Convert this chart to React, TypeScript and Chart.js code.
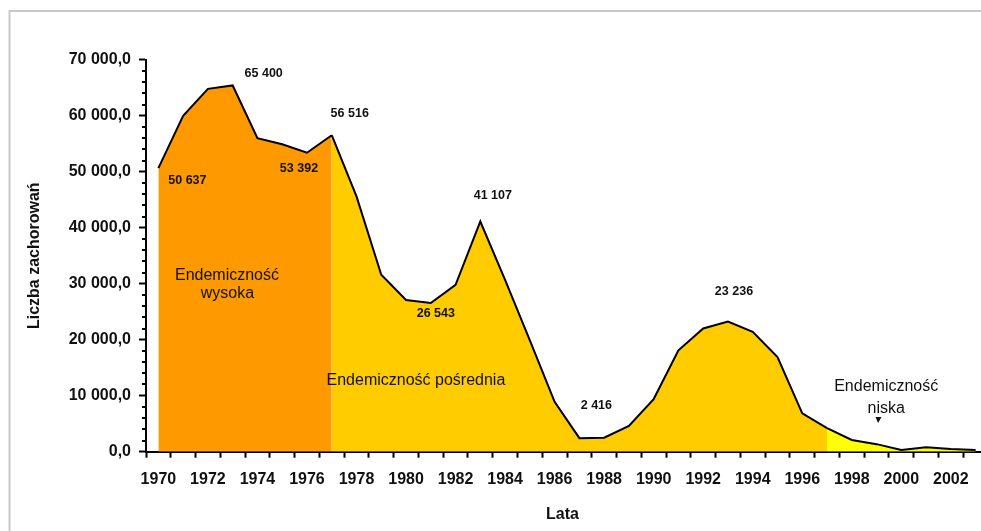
import React, { useEffect, useRef } from "react";
import { Chart, registerables } from "chart.js";

Chart.register(...registerables);

const years: string[] = [
  "1970", "1971", "1972", "1973", "1974", "1975", "1976", "1977", "1978", "1979",
  "1980", "1981", "1982", "1983", "1984", "1985", "1986", "1987", "1988", "1989",
  "1990", "1991", "1992", "1993", "1994", "1995", "1996", "1997", "1998", "1999",
  "2000", "2001", "2002", "2003",
];

const cases: number[] = [
  50637, 60000, 64800, 65400, 56000, 54900, 53392, 56516, 45600, 31600,
  27100, 26543, 29800, 41107, 30700, 19900, 8900, 2416, 2500, 4600,
  9400, 18100, 22000, 23236, 21400, 16900, 6850, 4200, 2100, 1350,
  300, 790, 480, 300,
];

// zone boundaries (years)
const highEndYear = "1977";
const midEndYear = "1997";

const zoneColors: string[] = ["#ff9900", "#ffcc00", "#ffff00"];

const yTicks: number[] = [0, 10000, 20000, 30000, 40000, 50000, 60000, 70000];

const valueLabelYears: string[] = ["1970", "1973", "1976", "1977", "1981", "1983", "1987", "1993"];
const valueLabelTexts: string[] = ["50 637", "65 400", "53 392", "56 516", "26 543", "41 107", "2 416", "23 236"];

const FONT = "'Liberation Sans', Arial, Helvetica, sans-serif";

const fmt = (v: number) =>
  Math.round(v).toString().replace(/\B(?=(\d{3})+(?!\d))/g, " ") + ",0";

export default function App() {
  const ref = useRef<HTMLCanvasElement | null>(null);

  useEffect(() => {
    if (!ref.current) return;
    const hiIdx = years.indexOf(highEndYear);
    const midIdx = years.indexOf(midEndYear);

    const mk = (from: number, to: number, color: string) => ({
      data: cases.map((v, i) => (i >= from && i <= to ? v : null)),
      borderColor: "#000",
      borderWidth: 2,
      backgroundColor: color,
      fill: "origin",
      pointRadius: 0,
      tension: 0,
      spanGaps: false,
    });

    // label offsets (px) relative to their data points
    const labelOffsets: [number, number][] = [
      [29, 12.6], [31, -12.2], [-8, 16], [18, -22], [5, 10], [12.5, -25.7], [17, -33], [6, -30],
    ];

    const decor = {
      id: "decor",
      beforeDraw(chart: any) {
        const ctx = chart.ctx;
        ctx.save();
        ctx.fillStyle = "#ffffff";
        ctx.fillRect(0, 0, chart.width, chart.height);
        ctx.strokeStyle = "#c8c8c8";
        ctx.lineWidth = 2;
        ctx.beginPath();
        ctx.moveTo(9.5, chart.height);
        ctx.lineTo(9.5, 11);
        ctx.lineTo(chart.width, 11);
        ctx.stroke();
        ctx.restore();
      },
      afterDraw(chart: any) {
        const ctx = chart.ctx;
        const xs = chart.scales.x;
        const ys = chart.scales.y;
        const left = chart.chartArea.left;
        ctx.save();
        // minor ticks
        ctx.strokeStyle = "#000";
        ctx.lineWidth = 2;
        for (let v = 2000; v < 70000; v += 2000) {
          if (v % 10000 === 0) continue;
          const y = Math.round(ys.getPixelForValue(v));
          ctx.beginPath();
          ctx.moveTo(left - 4, y);
          ctx.lineTo(left, y);
          ctx.stroke();
        }
        // value labels
        ctx.fillStyle = "#111";
        ctx.font = `bold 12.5px ${FONT}`;
        ctx.textAlign = "center";
        ctx.textBaseline = "middle";
        valueLabelYears.forEach((yr, k) => {
          const i = years.indexOf(yr);
          const px = xs.getPixelForValue(i);
          const py = ys.getPixelForValue(cases[i]);
          const [dx, dy] = labelOffsets[k];
          ctx.fillText(valueLabelTexts[k], px + dx, py + dy);
        });
        // zone labels
        ctx.font = `16px ${FONT}`;
        ctx.textBaseline = "alphabetic";
        const zl: [string, number, number][] = [
          ["Endemiczność", 2.77, 30660],
          ["wysoka", 2.79, 27450],
          ["Endemiczność pośrednia", 10.4, 11910],
          ["Endemiczność", 29.39, 10890],
          ["niska", 29.39, 6860],
        ];
        zl.forEach(([t, i, v]) => {
          ctx.fillText(t, xs.getPixelForValue(i), ys.getPixelForValue(v));
        });
        // small arrow under "niska"
        const ax = xs.getPixelForValue(29.08);
        const ay = ys.getPixelForValue(5660);
        ctx.beginPath();
        ctx.moveTo(ax - 3, ay - 3);
        ctx.lineTo(ax + 3, ay - 3);
        ctx.lineTo(ax - 0.5, ay + 3);
        ctx.closePath();
        ctx.fill();
        // axis titles
        ctx.font = `bold 16px ${FONT}`;
        ctx.textBaseline = "middle";
        ctx.fillText("Lata", (xs.left + 981) / 2 - 1, 515);
        ctx.translate(35, (chart.chartArea.top + chart.chartArea.bottom) / 2);
        ctx.rotate(-Math.PI / 2);
        ctx.fillText("Liczba zachorowań", 0, 0);
        ctx.restore();
      },
    };

    const chart = new Chart(ref.current, {
      type: "line",
      data: {
        labels: years,
        datasets: [
          mk(0, hiIdx, zoneColors[0]),
          mk(hiIdx, midIdx, zoneColors[1]),
          mk(midIdx, years.length - 1, zoneColors[2]),
        ] as any,
      },
      options: {
        animation: false,
        responsive: false,
        devicePixelRatio: 1,
        layout: { padding: { top: 59.7, right: 12, bottom: 0, left: 0 } },
        plugins: {
          legend: { display: false },
          tooltip: { enabled: false },
          filler: { drawTime: "beforeDatasetsDraw" },
        } as any,
        scales: {
          x: {
            type: "category",
            offset: true,
            grid: {
              offset: true,
              drawOnChartArea: false,
              drawTicks: true,
              tickLength: 6,
              tickWidth: 2,
              tickColor: "#000",
            },
            border: { color: "#000", width: 2 },
            ticks: {
              autoSkip: false,
              maxRotation: 0,
              minRotation: 0,
              padding: 12,
              color: "#111",
              font: { family: FONT, size: 16, weight: "bold" },
              callback: (_v: any, i: number) => (i % 2 === 0 ? years[i] : ""),
            },
            afterFit: (s: any) => {
              s.height = 531 - 451.7;
              s.paddingLeft = 0;
              s.paddingRight = 0;
            },
          },
          y: {
            min: 0,
            max: 70000,
            afterBuildTicks: (s: any) => {
              s.ticks = yTicks.map((v) => ({ value: v }));
            },
            grid: {
              drawOnChartArea: false,
              drawTicks: true,
              tickLength: 7,
              tickWidth: 2,
              tickColor: "#000",
            },
            border: { color: "#000", width: 2 },
            ticks: {
              padding: 8,
              color: "#111",
              font: { family: FONT, size: 16, weight: "bold" },
              callback: (v: any) => fmt(Number(v)),
            },
            afterFit: (s: any) => {
              s.width = 146;
              s.paddingTop = 0;
              s.paddingBottom = 0;
            },
          },
        },
      } as any,
      plugins: [decor],
    });
    return () => chart.destroy();
  }, []);

  return (
    <div
      style={{
        position: "fixed",
        left: 0,
        top: 0,
        width: 981,
        height: 531,
        overflow: "hidden",
        background: "#fff",
      }}
    >
      <canvas ref={ref} width={1000} height={531} style={{ display: "block", width: 1000, height: 531 }} />
    </div>
  );
}
